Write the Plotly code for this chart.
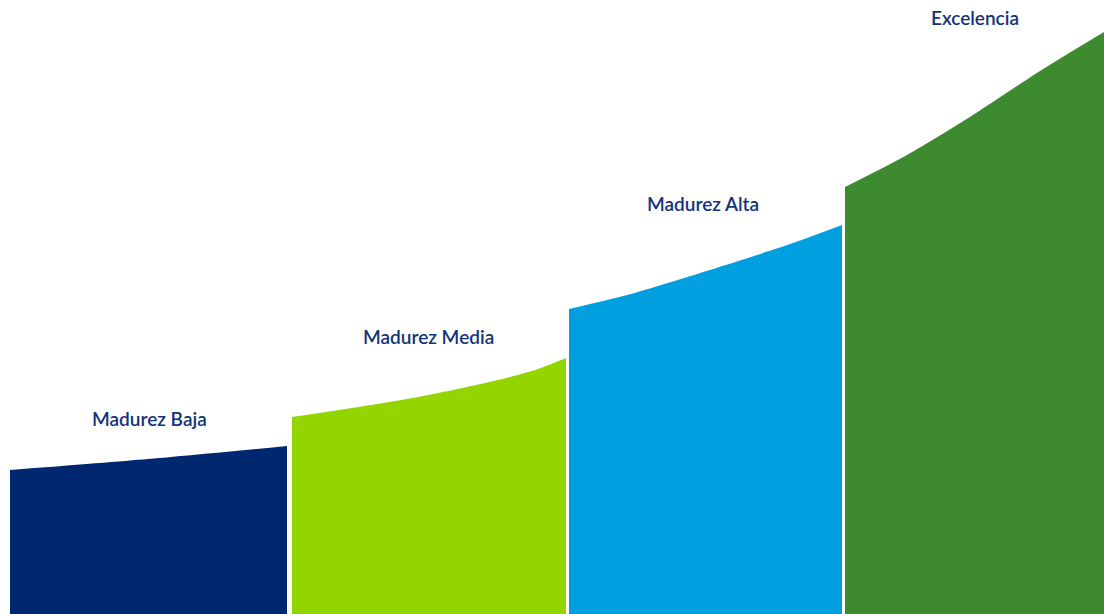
import plotly.graph_objects as go

# Maturity stages and the top edge of each stage's area (x, height)
stages = ["Madurez Baja", "Madurez Media", "Madurez Alta", "Excelencia"]

baja_x = [10, 148, 287]
baja_y = [144, 155, 168]

media_x = [292, 352, 418, 485, 535, 566]
media_y = [197, 206, 217, 231, 244, 256]

alta_x = [569, 627, 710, 793, 842]
alta_y = [305, 319, 344, 371, 389]

excel_x = [845, 907, 973, 1040, 1104]
excel_y = [427, 459, 499, 543, 582]

# Label anchor positions (centre x, height) per stage
label_x = [149, 428, 703, 975]
label_y = [196, 278, 411, 597]

colors = ["#00276F", "#94D500", "#009FDF", "#3D8A2F"]

fig = go.Figure()
for xs, ys, c in zip([baja_x, media_x, alta_x, excel_x],
                     [baja_y, media_y, alta_y, excel_y], colors):
    fig.add_trace(go.Scatter(
        x=xs, y=ys, mode="lines",
        line=dict(color=c, width=0, shape="spline", smoothing=0.8),
        fill="tozeroy", fillcolor=c, hoverinfo="skip",
    ))

for name, lx, ly in zip(stages, label_x, label_y):
    fig.add_annotation(
        x=lx, y=ly, text=name, showarrow=False,
        font=dict(family="Lato", size=19, color="#14337A", weight=600),
        xanchor="center", yanchor="middle",
    )

fig.update_layout(
    width=1104, height=614,
    margin=dict(l=0, r=0, t=0, b=0),
    paper_bgcolor="white", plot_bgcolor="white",
    showlegend=False,
    xaxis=dict(range=[0, 1104], visible=False, fixedrange=True),
    yaxis=dict(range=[0, 614], visible=False, fixedrange=True),
)

fig.write_html("out.html", config={"displayModeBar": False})
